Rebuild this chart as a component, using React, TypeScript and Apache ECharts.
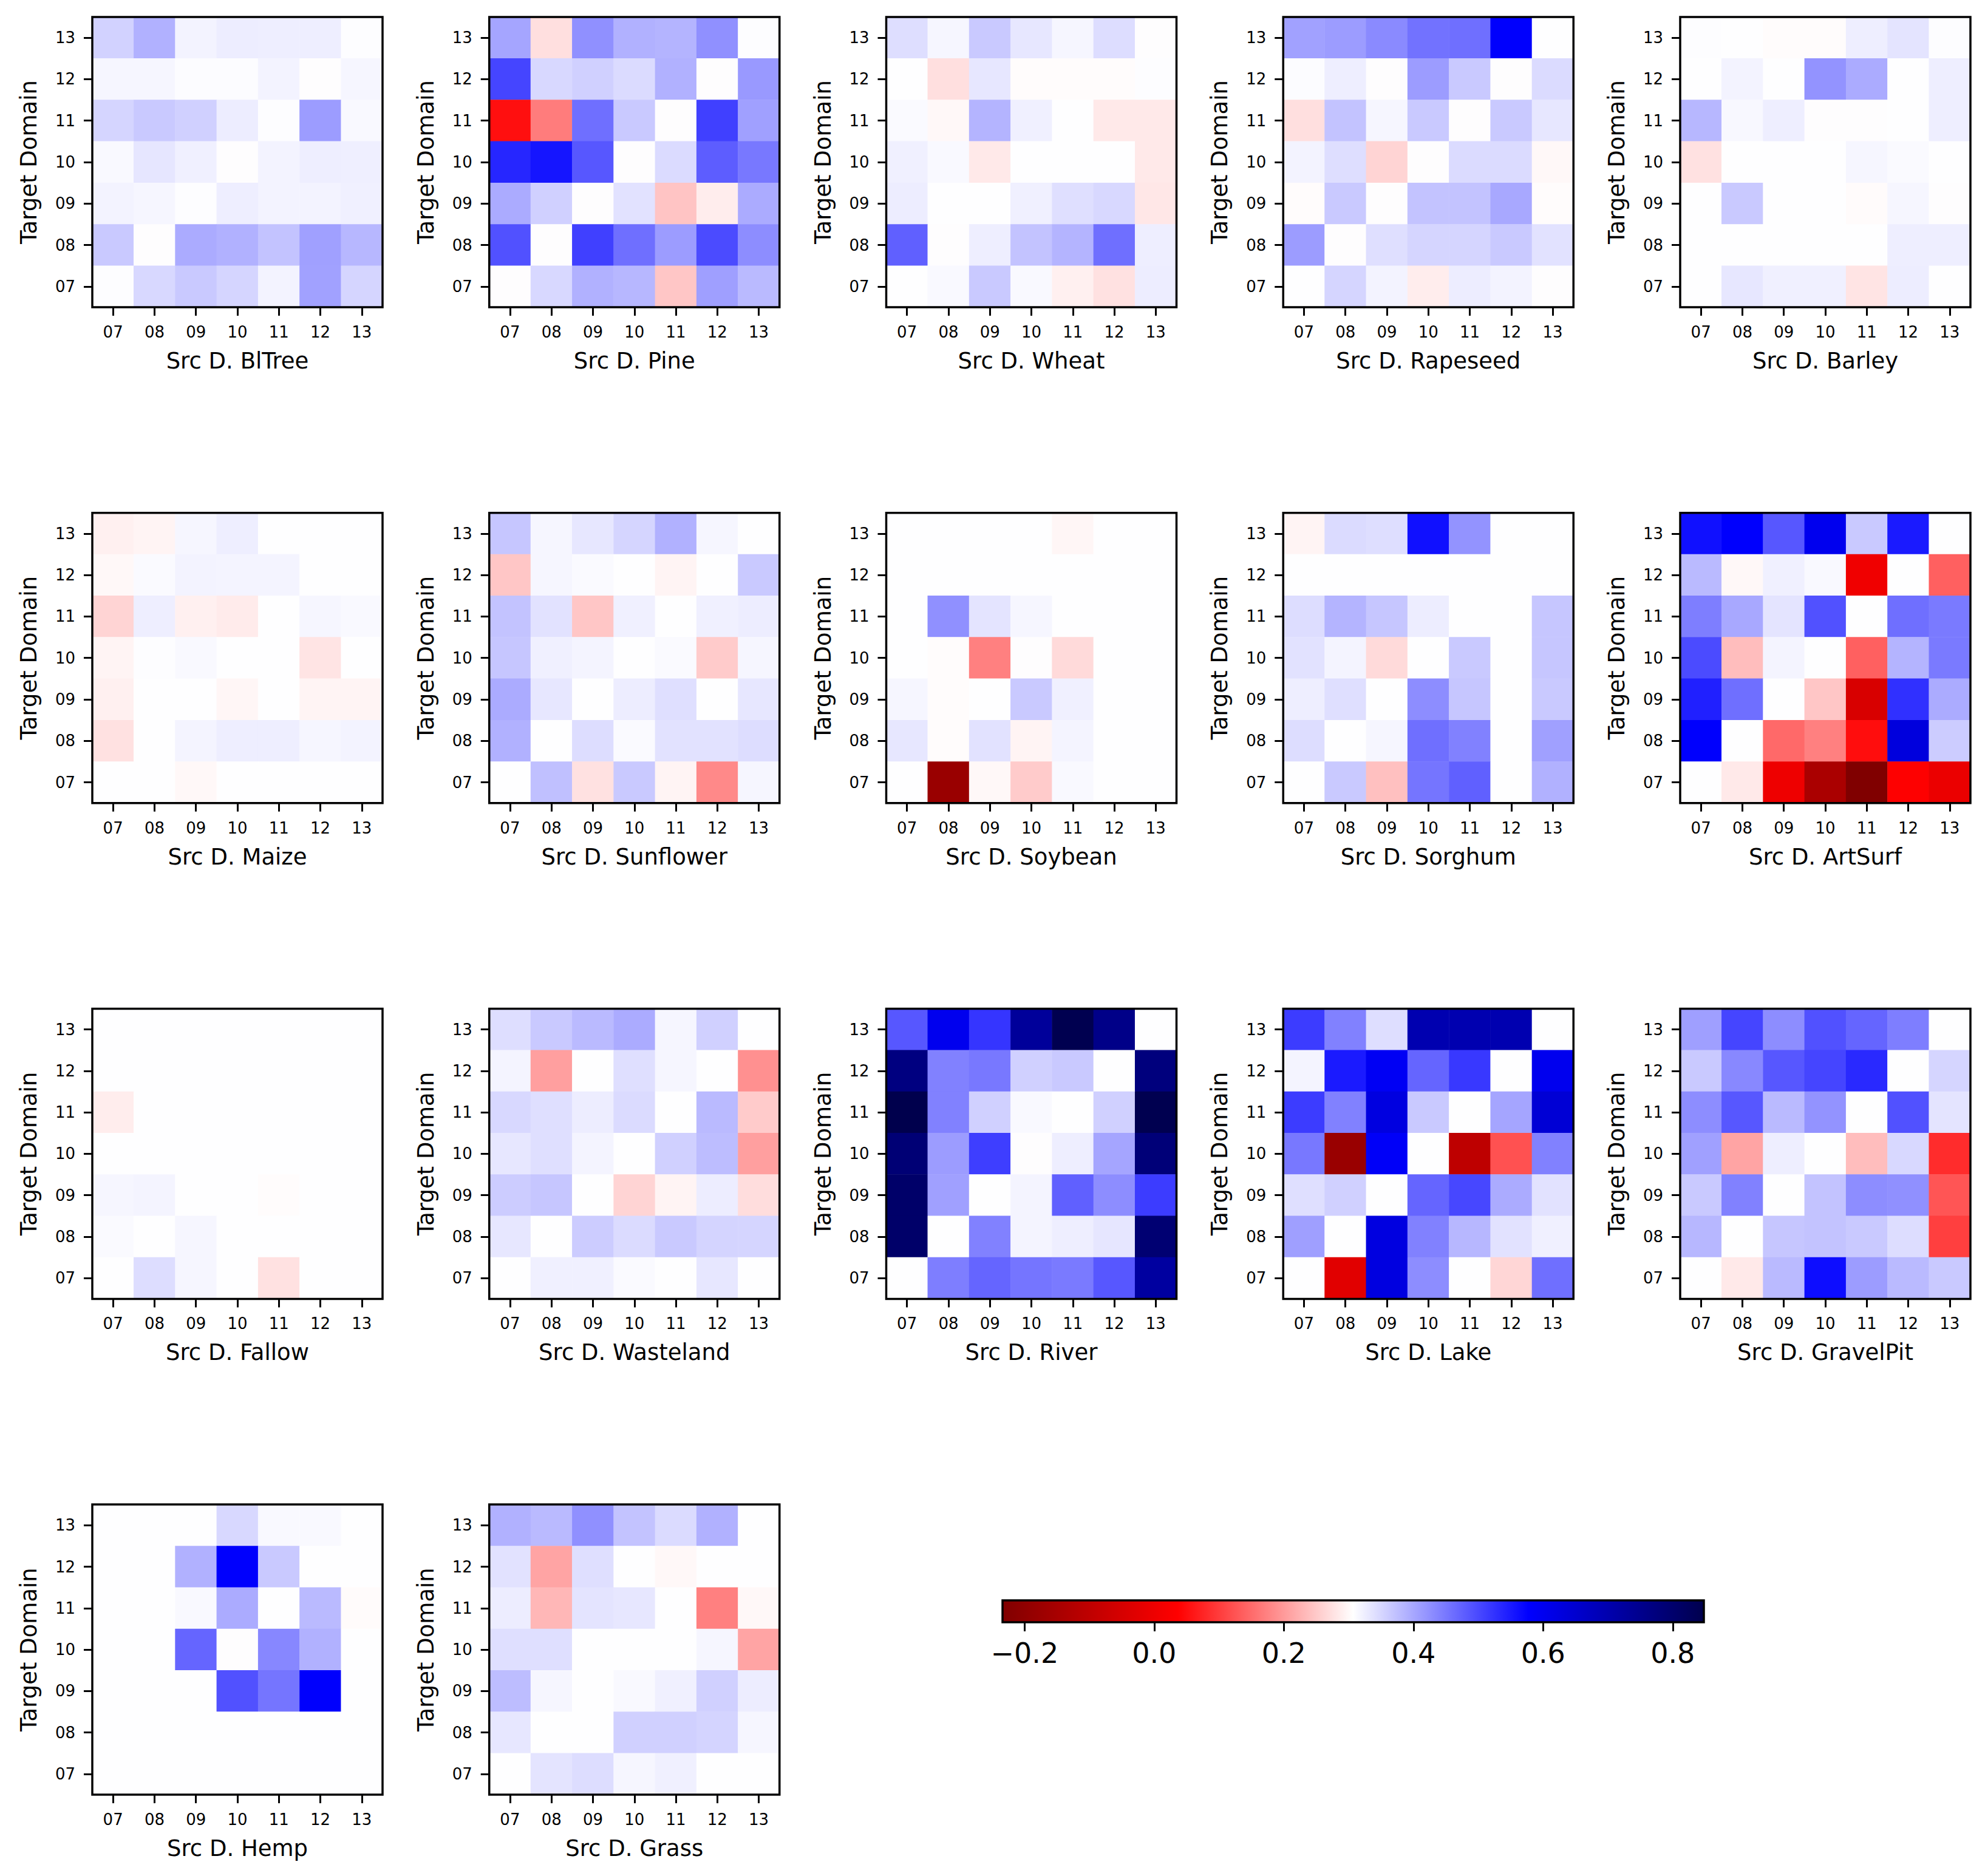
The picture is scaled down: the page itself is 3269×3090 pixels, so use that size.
import React, { useEffect, useRef } from "react";
import * as echarts from "echarts";

const YEARS = ["07", "08", "09", "10", "11", "12", "13"];
const SOURCES = ["BlTree", "Pine", "Wheat", "Rapeseed", "Barley", "Maize", "Sunflower", "Soybean", "Sorghum", "ArtSurf", "Fallow", "Wasteland", "River", "Lake", "GravelPit", "Hemp", "Grass"];
const CBAR_TICKS = [-0.2, 0.0, 0.2, 0.4, 0.6, 0.8];
const VMIN = -0.234;
const VMAX = 0.848;

// each matrix: rows = target domain 13 (top) .. 07 (bottom); columns = source year 07 .. 13
const BLTREE = [
  [0.075, 0.13, 0.02, 0.03, 0.028, 0.028, 0.003],
  [0.015, 0.015, 0.006, 0.006, 0.02, 0.0, 0.015],
  [0.07, 0.09, 0.078, 0.03, 0.003, 0.165, 0.01],
  [0.01, 0.042, 0.025, 0.0, 0.02, 0.028, 0.027],
  [0.02, 0.015, 0.003, 0.028, 0.02, 0.02, 0.025],
  [0.09, 0.0, 0.14, 0.13, 0.1, 0.158, 0.12],
  [0.003, 0.065, 0.09, 0.07, 0.02, 0.155, 0.07],
];
const PINE = [
  [0.15, -0.015, 0.185, 0.13, 0.125, 0.185, 0.003],
  [0.31, 0.065, 0.078, 0.06, 0.13, 0.0, 0.17],
  [-0.11, -0.06, 0.24, 0.09, 0.0, 0.318, 0.158],
  [0.36, 0.39, 0.28, 0.0, 0.06, 0.27, 0.225],
  [0.14, 0.078, 0.0, 0.048, -0.027, -0.008, 0.14],
  [0.29, 0.0, 0.318, 0.24, 0.165, 0.3, 0.19],
  [0.0, 0.065, 0.13, 0.12, -0.026, 0.16, 0.115],
];
const WHEAT = [
  [0.055, 0.015, 0.09, 0.04, 0.015, 0.057, 0.0],
  [0.002, -0.015, 0.04, -0.001, -0.001, -0.001, 0.004],
  [0.008, -0.003, 0.125, 0.025, 0.002, -0.01, -0.01],
  [0.025, 0.01, -0.01, 0.002, 0.002, 0.002, -0.01],
  [0.03, 0.002, 0.002, 0.025, 0.053, 0.065, -0.011],
  [0.265, 0.0, 0.028, 0.1, 0.125, 0.24, 0.028],
  [0.002, 0.01, 0.09, 0.01, -0.007, -0.014, 0.03],
];
const RAPESEED = [
  [0.155, 0.165, 0.195, 0.235, 0.24, 0.43, 0.002],
  [0.006, 0.028, 0.0, 0.165, 0.09, 0.0, 0.06],
  [-0.015, 0.1, 0.015, 0.09, 0.0, 0.09, 0.04],
  [0.02, 0.055, -0.02, 0.0, 0.06, 0.06, -0.003],
  [-0.001, 0.09, 0.0, 0.1, 0.1, 0.145, -0.001],
  [0.165, 0.0, 0.053, 0.07, 0.07, 0.09, 0.048],
  [0.002, 0.07, 0.02, -0.008, 0.03, 0.02, 0.0],
];
const BARLEY = [
  [0.003, 0.002, -0.001, -0.001, 0.028, 0.045, 0.003],
  [0.002, 0.02, 0.002, 0.18, 0.14, 0.002, 0.028],
  [0.12, 0.012, 0.028, 0.0, 0.0, 0.002, 0.028],
  [-0.014, 0.002, 0.002, 0.002, 0.015, 0.008, 0.002],
  [0.002, 0.09, 0.002, 0.002, -0.002, 0.015, 0.0],
  [0.002, 0.002, 0.002, 0.002, 0.002, 0.028, 0.028],
  [0.002, 0.04, 0.025, 0.025, -0.012, 0.03, 0.002],
];
const MAIZE = [
  [-0.007, -0.005, 0.015, 0.028, 0.002, 0.002, 0.002],
  [-0.003, 0.008, 0.02, 0.018, 0.018, 0.002, 0.002],
  [-0.02, 0.028, -0.007, -0.009, 0.002, 0.015, 0.01],
  [-0.005, 0.004, 0.01, 0.002, 0.002, -0.012, 0.002],
  [-0.007, 0.002, 0.002, -0.004, 0.002, -0.005, -0.005],
  [-0.014, 0.002, 0.018, 0.028, 0.028, 0.015, 0.02],
  [0.002, 0.002, -0.003, 0.002, 0.002, 0.002, 0.002],
];
const SUNFLOWER = [
  [0.095, 0.015, 0.04, 0.07, 0.13, 0.015, 0.002],
  [-0.026, 0.015, 0.008, 0.002, -0.005, 0.002, 0.09],
  [0.1, 0.048, -0.026, 0.025, 0.002, 0.025, 0.03],
  [0.095, 0.025, 0.018, 0.002, 0.008, -0.024, 0.015],
  [0.14, 0.04, 0.002, 0.03, 0.053, 0.002, 0.04],
  [0.13, 0.002, 0.057, 0.008, 0.048, 0.048, 0.057],
  [0.002, 0.105, -0.014, 0.09, -0.005, -0.054, 0.015],
];
const SOYBEAN = [
  [0.002, 0.002, 0.002, 0.002, -0.004, 0.002, 0.002],
  [0.002, 0.002, 0.002, 0.002, 0.002, 0.002, 0.002],
  [0.002, 0.185, 0.045, 0.015, 0.002, 0.002, 0.002],
  [0.002, -0.001, -0.058, 0.0, -0.017, 0.002, 0.002],
  [0.015, -0.001, 0.002, 0.09, 0.025, 0.002, 0.002],
  [0.04, -0.001, 0.048, -0.005, 0.018, 0.002, 0.002],
  [0.002, -0.211, -0.003, -0.024, 0.01, 0.002, 0.002],
];
const SORGHUM = [
  [-0.005, 0.06, 0.055, 0.397, 0.18, 0.002, 0.002],
  [0.002, 0.002, 0.002, 0.002, 0.002, 0.002, 0.002],
  [0.057, 0.125, 0.095, 0.03, 0.002, 0.002, 0.095],
  [0.048, 0.018, -0.017, 0.002, 0.09, 0.002, 0.095],
  [0.028, 0.053, 0.002, 0.19, 0.095, 0.002, 0.09],
  [0.057, 0.002, 0.015, 0.24, 0.21, 0.002, 0.158],
  [0.002, 0.09, -0.029, 0.23, 0.265, 0.002, 0.13],
];
const ARTSURF = [
  [0.397, 0.43, 0.28, 0.464, 0.09, 0.38, 0.002],
  [0.115, -0.003, 0.025, 0.01, -0.131, 0.002, -0.073],
  [0.214, 0.145, 0.045, 0.29, 0.002, 0.24, 0.22],
  [0.3, -0.03, 0.018, 0.002, -0.073, 0.125, 0.22],
  [0.37, 0.24, 0.002, -0.026, -0.153, 0.345, 0.14],
  [0.43, 0.002, -0.069, -0.058, -0.111, 0.505, 0.085],
  [0.002, -0.01, -0.133, -0.195, -0.234, -0.117, -0.136],
];
const FALLOW = [
  [0.002, 0.002, 0.002, 0.002, 0.002, 0.002, 0.002],
  [0.002, 0.002, 0.002, 0.002, 0.002, 0.002, 0.002],
  [-0.008, 0.002, 0.002, 0.002, 0.002, 0.002, 0.002],
  [0.002, 0.002, 0.002, 0.002, 0.002, 0.002, 0.002],
  [0.015, 0.018, 0.002, 0.002, -0.001, 0.002, 0.002],
  [0.008, 0.002, 0.015, 0.002, 0.002, 0.002, 0.002],
  [0.002, 0.057, 0.015, 0.002, -0.014, 0.002, 0.002],
];
const WASTELAND = [
  [0.055, 0.09, 0.115, 0.14, 0.015, 0.078, 0.002],
  [0.018, -0.044, 0.002, 0.053, 0.015, 0.002, -0.051],
  [0.065, 0.053, 0.03, 0.06, 0.002, 0.115, -0.024],
  [0.04, 0.053, 0.018, 0.002, 0.078, 0.11, -0.044],
  [0.085, 0.095, 0.002, -0.02, -0.005, 0.03, -0.016],
  [0.04, 0.002, 0.085, 0.06, 0.09, 0.072, 0.07],
  [0.002, 0.025, 0.025, 0.008, 0.002, 0.04, 0.002],
];
const RIVER = [
  [0.28, 0.464, 0.335, 0.664, 0.84, 0.707, 0.002],
  [0.725, 0.21, 0.225, 0.078, 0.09, 0.002, 0.735],
  [0.848, 0.21, 0.078, 0.01, 0.002, 0.078, 0.84],
  [0.752, 0.165, 0.32, 0.0, 0.028, 0.15, 0.745],
  [0.78, 0.158, 0.002, 0.018, 0.265, 0.19, 0.325],
  [0.78, 0.002, 0.21, 0.018, 0.028, 0.042, 0.76],
  [0.002, 0.214, 0.255, 0.23, 0.22, 0.28, 0.65],
];
const LAKE = [
  [0.325, 0.21, 0.055, 0.612, 0.612, 0.612, 0.002],
  [0.018, 0.38, 0.45, 0.255, 0.33, 0.002, 0.464],
  [0.325, 0.21, 0.498, 0.09, 0.002, 0.15, 0.524],
  [0.225, -0.211, 0.44, 0.002, -0.177, -0.08, 0.21],
  [0.053, 0.078, 0.002, 0.255, 0.305, 0.14, 0.048],
  [0.16, 0.002, 0.498, 0.21, 0.12, 0.048, 0.025],
  [0.002, -0.145, 0.498, 0.19, 0.002, -0.019, 0.24],
];
const GRAVELPIT = [
  [0.16, 0.31, 0.19, 0.29, 0.255, 0.214, 0.002],
  [0.09, 0.198, 0.28, 0.31, 0.356, 0.002, 0.07],
  [0.19, 0.28, 0.115, 0.18, 0.002, 0.29, 0.045],
  [0.158, -0.042, 0.028, 0.002, -0.03, 0.065, -0.097],
  [0.09, 0.21, 0.002, 0.1, 0.19, 0.185, -0.078],
  [0.12, 0.002, 0.095, 0.1, 0.09, 0.057, -0.088],
  [0.002, -0.01, 0.115, 0.403, 0.165, 0.115, 0.09],
];
const HEMP = [
  [0.002, 0.002, 0.002, 0.065, 0.01, 0.01, 0.002],
  [0.002, 0.002, 0.13, 0.43, 0.09, 0.002, 0.002],
  [0.002, 0.002, 0.01, 0.14, 0.002, 0.115, -0.002],
  [0.002, 0.002, 0.255, 0.0, 0.2, 0.13, 0.002],
  [0.002, 0.002, 0.002, 0.29, 0.23, 0.43, 0.002],
  [0.002, 0.002, 0.002, 0.002, 0.002, 0.002, 0.002],
  [0.002, 0.002, 0.002, 0.002, 0.002, 0.002, 0.002],
];
const GRASS = [
  [0.13, 0.115, 0.185, 0.1, 0.06, 0.13, 0.002],
  [0.048, -0.042, 0.053, 0.002, -0.003, 0.002, 0.002],
  [0.03, -0.033, 0.045, 0.04, 0.002, -0.058, -0.003],
  [0.053, 0.053, 0.002, 0.002, 0.002, 0.015, -0.042],
  [0.11, 0.015, 0.002, 0.01, 0.025, 0.078, 0.03],
  [0.04, 0.002, 0.002, 0.078, 0.078, 0.072, 0.015],
  [0.002, 0.045, 0.057, 0.015, 0.025, 0.002, 0.002],
];

const MATRICES = [BLTREE, PINE, WHEAT, RAPESEED, BARLEY, MAIZE, SUNFLOWER, SOYBEAN, SORGHUM, ARTSURF, FALLOW, WASTELAND, RIVER, LAKE, GRAVELPIT, HEMP, GRASS];

// seismic_r colormap anchors with a two-slope norm centred on 0
const CMAP_ANCHORS: [number, number[]][] = [
  [0.0, [128, 0, 0]],
  [0.25, [255, 0, 0]],
  [0.5, [255, 255, 255]],
  [0.75, [0, 0, 255]],
  [1.0, [0, 0, 77]],
];

function normFrac(v: number) {
  if (v < 0) return 0.5 * (v - VMIN) / (0 - VMIN);
  return 0.5 + 0.5 * v / VMAX;
}
function cmap(f: number) {
  f = Math.max(0, Math.min(1, f));
  for (let i = 0; i < CMAP_ANCHORS.length - 1; i++) {
    const [f0, c0] = CMAP_ANCHORS[i];
    const [f1, c1] = CMAP_ANCHORS[i + 1];
    if (f <= f1) {
      const t = (f - f0) / (f1 - f0);
      const c = c0.map((a, k) => Math.round(a + (c1[k] - a) * t));
      return `rgb(${c[0]},${c[1]},${c[2]})`;
    }
  }
  return "rgb(0,0,77)";
}

const FONT = "DejaVu Sans";
const FIG_W = 3269;
const FIG_H = 3090;

export default function App() {
  const ref = useRef<HTMLDivElement>(null);
  useEffect(() => {
    document.body.style.margin = "0";
    if (!ref.current) return;
    const chart = echarts.init(ref.current, undefined, { renderer: "svg" });

    const N = 400;
    const vmColors: string[] = [];
    for (let i = 0; i <= N; i++) {
      const v = VMIN + (VMAX - VMIN) * (i / N);
      vmColors.push(cmap(normFrac(v)));
    }

    const grids: any[] = [];
    const xAxes: any[] = [];
    const yAxes: any[] = [];
    const series: any[] = [];
    const PANEL = 478;
    MATRICES.forEach((m, i) => {
      const col = i % 5;
      const row = Math.floor(i / 5);
      grids.push({
        left: 152 + 653.75 * col,
        top: 28 + 816.7 * row,
        width: PANEL,
        height: PANEL,
        show: true,
        z: 5,
        borderColor: "#000",
        borderWidth: 3.5,
        backgroundColor: "transparent",
      });
      xAxes.push({
        type: "category",
        gridIndex: i,
        data: YEARS,
        position: "bottom",
        axisLine: { show: false },
        axisTick: { show: true, alignWithLabel: true, length: 14, lineStyle: { color: "#000", width: 3 } },
        axisLabel: { fontSize: 26, color: "#000", fontFamily: FONT, margin: 28 },
        splitLine: { show: false },
        name: "Src D. " + SOURCES[i],
        nameLocation: "middle",
        nameGap: 70,
        nameTextStyle: { fontSize: 37, color: "#000", fontFamily: FONT },
      });
      yAxes.push({
        type: "category",
        gridIndex: i,
        data: YEARS,
        axisLine: { show: false },
        axisTick: { show: true, alignWithLabel: true, length: 14, lineStyle: { color: "#000", width: 3 } },
        axisLabel: { fontSize: 26, color: "#000", fontFamily: FONT, margin: 28 },
        splitLine: { show: false },
        name: "Target Domain",
        nameLocation: "middle",
        nameGap: 86,
        nameTextStyle: { fontSize: 37, color: "#000", fontFamily: FONT },
      });
      const data: number[][] = [];
      m.forEach((r, ri) => r.forEach((v, ci) => data.push([ci, 6 - ri, v])));
      series.push({
        type: "heatmap",
        xAxisIndex: i,
        yAxisIndex: i,
        data,
        emphasis: { disabled: true },
        progressive: 0,
      });
    });

    // colorbar
    const cbIdx = MATRICES.length;
    grids.push({ left: 1651, top: 2636, width: 1155, height: 36, show: false });
    xAxes.push({
      type: "value",
      gridIndex: cbIdx,
      min: VMIN,
      max: VMAX,
      axisLine: { show: false },
      splitLine: { show: false },
      axisTick: { show: true, customValues: CBAR_TICKS, length: 15, lineStyle: { color: "#000", width: 3 } },
      axisLabel: {
        customValues: CBAR_TICKS,
        fontSize: 46,
        color: "#000",
        fontFamily: FONT,
        margin: 28,
        formatter: (v: number) => v.toFixed(1).replace("-", "\u2212"),
      },
    });
    yAxes.push({ type: "value", gridIndex: cbIdx, min: 0, max: 1, show: false });
    const f0 = normFrac(VMIN);
    const stops = CMAP_ANCHORS.map(([f, c]) => ({
      offset: (f - f0) / (1 - f0),
      color: `rgb(${c[0]},${c[1]},${c[2]})`,
    }));
    series.push({
      type: "custom",
      xAxisIndex: cbIdx,
      yAxisIndex: cbIdx,
      data: [[VMIN, 0, VMAX, 1]],
      encode: { x: [0, 2], y: [1, 3] },
      renderItem: (params: any, api: any) => {
        const p0 = api.coord([api.value(0), api.value(3)]);
        const p1 = api.coord([api.value(2), api.value(1)]);
        return {
          type: "rect",
          shape: { x: p0[0], y: p0[1], width: p1[0] - p0[0], height: p1[1] - p0[1] },
          style: {
            fill: new echarts.graphic.LinearGradient(0, 0, 1, 0, stops),
            stroke: "#000",
            lineWidth: 3.5,
          },
        };
      },
    });

    chart.setOption({
      animation: false,
      backgroundColor: "#fff",
      textStyle: { fontFamily: FONT },
      grid: grids,
      xAxis: xAxes,
      yAxis: yAxes,
      visualMap: {
        type: "continuous",
        show: false,
        min: VMIN,
        max: VMAX,
        seriesIndex: MATRICES.map((_, i) => i),
        inRange: { color: vmColors },
      },
      series,
    });
    return () => chart.dispose();
  }, []);
  return <div ref={ref} style={{ width: FIG_W, height: FIG_H }} />;
}
